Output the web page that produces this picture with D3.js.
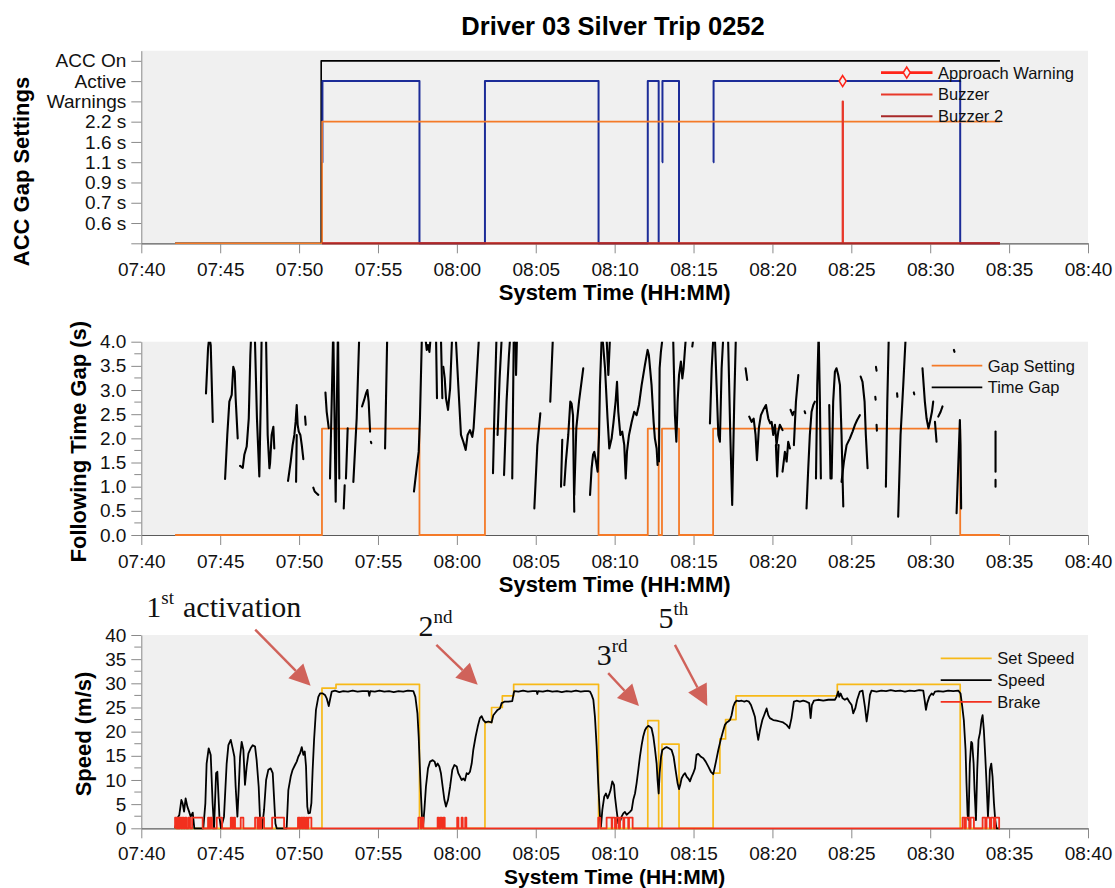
<!DOCTYPE html>
<html>
<head>
<meta charset="utf-8">
<script src="https://cdn.jsdelivr.net/npm/d3@7"></script>
<style>
  html, body { margin: 0; padding: 0; background: #fff; }
  svg { display: block; }
</style>
</head>
<body>
<div id="chart"></div>
<script>
// Trip 0252 — three stacked panels sharing one time axis (07:40 → 08:40).
// Times are minutes after 07:40, values in each panel's own unit.

// ---- panel 1 : ACC gap settings (level index 0..9) ----
const gapLevels = ["", "0.6 s", "0.7 s", "0.9 s", "1.1 s", "1.6 s", "2.2 s", "Warnings", "Active", "ACC On"]
const accOn    = [[2.14, 0], [11.40, 9], [54.42, 9]]
const accActive = [[11.45, 4], [11.48, 8], [17.63, 0], [21.78, 8], [28.98, 0], [32.10, 8], [32.79, 0],
                   [33.00, null], [33.00, 4], [33.03, 8], [34.08, 0],
                   [36.24, null], [36.24, 4], [36.27, 8], [51.90, 0], [54.42, 0]]
const gapLevel = [[2.14, 0], [11.46, 6], [54.42, 6]]
const buzzer   = [[11.46, 0], [44.45, 7], [44.47, 0], [54.42, 0]]
const buzzer2  = [[11.46, 0], [54.42, 0]]
const approachWarning = [[44.45, 8]]

// ---- panel 2 : following time gap (s) ----
const gapSetting = [[2.14, 0], [11.45, 2.2], [17.63, 0], [21.78, 2.2], [28.98, 0], [32.10, 2.2], [32.79, 0],
                    [33.00, 2.2], [34.08, 0], [36.24, 2.2], [51.90, 0], [54.42, 0]]
// radar time gap comes in broken pieces (no target = no sample)
const timeGapSegs = [
  [[4.10, 2.93], [4.23, 3.86], [4.31, 4.1], [4.40, 3.93], [4.44, 3.45], [4.53, 2.34]],
  [[5.31, 1.16], [5.45, 2.07], [5.58, 2.76], [5.73, 2.90], [5.83, 3.48], [5.92, 3.38], [5.98, 2.83], [6.11, 2.0]],
  [[6.26, 1.43], [6.43, 1.39], [6.53, 1.66], [6.68, 1.83], [6.81, 2.41], [6.91, 3.72], [6.97, 4.2]],
  [[7.19, 4.2], [7.33, 2.41], [7.48, 1.21], [7.57, 2.76], [7.63, 4.2]],
  [[7.90, 4.2], [8.01, 2.07], [8.12, 1.38], [8.16, 1.48], [8.26, 2.07], [8.37, 2.24], [8.43, 1.79]],
  [[9.30, 1.12], [9.47, 1.52], [9.59, 1.86], [9.70, 2.07], [9.78, 2.34], [9.85, 2.69], [9.91, 2.28], [9.98, 2.14], [10.08, 2.07], [10.17, 1.86], [10.27, 1.57]],
  [[9.81, 1.10], [9.85, 2.07]],
  [[10.38, 2.45], [10.42, 2.28]],
  [[10.90, 0.98], [10.99, 0.90], [11.12, 0.86], [11.22, 0.83]],
  [[11.67, 2.95], [11.75, 2.55], [11.88, 2.21]],
  [[11.96, 1.17], [12.09, 3.10], [12.16, 4.2]],
  [[12.17, 4.2], [12.26, 2.07], [12.32, 0.69], [12.38, 2.41], [12.46, 4.2]],
  [[12.47, 4.2], [12.51, 2.76], [12.55, 1.17]],
  [[12.83, 0.55], [12.89, 1.03]],
  [[12.97, 1.17], [13.08, 2.21]],
  [[13.44, 1.10], [13.65, 2.41], [13.82, 4.2]],
  [[13.99, 2.66], [14.12, 2.79], [14.24, 2.93], [14.33, 3.0], [14.41, 2.76], [14.50, 2.14]],
  [[14.55, 1.93], [14.58, 1.90]],
  [[15.45, 1.79], [15.59, 4.2]],
  [[17.28, 0.90], [17.45, 1.38], [17.58, 1.72], [17.66, 2.41], [17.79, 4.2]],
  [[18.00, 4.1], [18.09, 3.83], [18.17, 3.93], [18.26, 3.79], [18.34, 4.1]],
  [[18.68, 4.1], [18.74, 2.83]],
  [[18.99, 4.1], [19.08, 2.83]],
  [[19.14, 3.48], [19.23, 3.24], [19.31, 2.83], [19.44, 2.59], [19.57, 3.03], [19.71, 4.2]],
  [[19.93, 4.1], [20.09, 3.10], [20.26, 2.07], [20.41, 1.93], [20.56, 1.76], [20.68, 2.07], [20.83, 2.17], [20.98, 2.03], [21.06, 2.21], [21.19, 2.90], [21.42, 4.2]],
  [[22.29, 1.28], [22.37, 2.41], [22.52, 4.2]],
  [[22.58, 2.07], [22.71, 3.24], [22.86, 4.2]],
  [[22.99, 1.24], [23.15, 2.76], [23.30, 3.72], [23.40, 4.2]],
  [[23.51, 1.17], [23.56, 2.76], [23.61, 4.2]],
  [[23.67, 4.2], [23.75, 3.31], [23.82, 4.2]],
  [[24.91, 0.55], [25.10, 1.86], [25.29, 2.52]],
  [[25.92, 2.76], [26.10, 4.2]],
  [[26.60, 1.0], [26.68, 1.97]],
  [[26.81, 1.03], [26.91, 1.52], [27.06, 2.07], [27.19, 2.76], [27.27, 2.72], [27.36, 2.48], [27.44, 0.48]],
  [[27.44, 0.83], [27.57, 2.21], [27.74, 2.76], [28.01, 3.45]],
  [[28.44, 0.83], [28.54, 1.38], [28.63, 1.66], [28.71, 1.72], [28.82, 1.52], [28.92, 1.31], [29.01, 2.07], [29.07, 3.10], [29.19, 4.2]],
  [[29.20, 4.2], [29.39, 3.45], [29.55, 2.41], [29.66, 1.79], [29.81, 2.0], [29.93, 2.34], [30.06, 2.76], [30.15, 3.17], [30.23, 2.55], [30.36, 2.07], [30.48, 2.14], [30.61, 1.86], [30.70, 1.17], [30.78, 1.72], [30.91, 2.07], [31.08, 2.34], [31.24, 2.55], [31.39, 2.48], [31.54, 2.69], [31.71, 3.10], [31.92, 3.52], [32.09, 3.83], [32.17, 3.72], [32.34, 3.10], [32.47, 2.34], [32.55, 2.0], [32.66, 1.79], [32.72, 1.45]],
  [[29.47, 4.2], [29.60, 3.31], [29.72, 4.2]],
  [[32.81, 1.52], [32.85, 3.45], [32.93, 3.79], [33.08, 4.2]],
  [[33.70, 4.2], [33.82, 2.48], [33.91, 1.93], [33.99, 2.76], [34.08, 3.31], [34.20, 3.59], [34.29, 3.24], [34.37, 3.45], [34.46, 3.86], [34.54, 4.2]],
  [[34.92, 3.90], [34.98, 4.05]],
  [[36.04, 2.31], [36.15, 3.45], [36.27, 4.2]],
  [[36.34, 4.2], [36.46, 3.10], [36.57, 2.07], [36.67, 1.93], [36.78, 3.45], [36.90, 4.2]],
  [[37.18, 4.2], [37.33, 2.07], [37.45, 0.62], [37.58, 2.76], [37.69, 4.2]],
  [[38.30, 3.45], [38.40, 3.21]],
  [[38.53, 2.45], [38.68, 2.34], [38.81, 2.41], [38.93, 2.07], [39.02, 1.55], [39.14, 2.21], [39.27, 2.48], [39.42, 2.59], [39.59, 2.69], [39.74, 2.41], [39.86, 2.31], [39.95, 2.34], [40.05, 2.07], [40.16, 2.28], [40.26, 1.86], [40.37, 2.14], [40.47, 2.28], [40.64, 2.17]],
  [[40.22, 1.86], [40.30, 1.21], [40.39, 1.86]],
  [[40.64, 1.31], [40.79, 1.72], [40.90, 1.52], [41.00, 1.93], [41.11, 1.79]],
  [[41.15, 2.59], [41.28, 2.48], [41.36, 2.55]],
  [[41.36, 1.86], [41.49, 2.76], [41.64, 3.31]],
  [[42.04, 2.56], [42.08, 2.52]],
  [[42.16, 0.55], [42.27, 1.38], [42.37, 2.07], [42.48, 2.55], [42.59, 2.69], [42.69, 2.76]],
  [[42.76, 1.17], [42.84, 3.10], [42.93, 4.2], [43.01, 2.76], [43.07, 1.17]],
  [[43.60, 2.69], [43.68, 1.17]],
  [[43.75, 1.17], [43.85, 2.76], [43.96, 3.38], [44.06, 3.45], [44.17, 3.31], [44.28, 3.10], [44.38, 2.07], [44.49, 0.59]],
  [[44.38, 1.10], [44.53, 1.52], [44.70, 1.86], [44.91, 2.0], [45.08, 2.14], [45.23, 2.28], [45.37, 2.38], [45.54, 2.48]],
  [[45.59, 3.28], [45.71, 3.17], [45.84, 2.76], [45.92, 2.07], [46.03, 1.38]],
  [[46.56, 3.48], [46.60, 3.40]],
  [[46.52, 2.86], [46.54, 2.80]],
  [[46.60, 2.28], [46.62, 2.16]],
  [[47.19, 1.0], [47.28, 2.76], [47.38, 4.2]],
  [[47.90, 2.93], [47.92, 2.86]],
  [[47.97, 0.38], [48.12, 2.07], [48.29, 3.10], [48.46, 4.2]],
  [[48.96, 2.95], [48.99, 2.91]],
  [[49.51, 3.45], [49.66, 2.76], [49.77, 2.41], [49.89, 2.21], [49.98, 2.34], [50.11, 2.55], [50.19, 2.76]],
  [[50.30, 2.34], [50.40, 1.93]],
  [[50.51, 2.45], [50.66, 2.55], [50.78, 2.66]],
  [[51.50, 3.83], [51.54, 3.79]],
  [[51.67, 0.45], [51.77, 1.38], [51.88, 2.38], [51.92, 1.86], [51.96, 0.55]],
  [[54.14, 2.14], [54.14, 1.31]],
  [[54.14, 1.14], [54.14, 1.0]],
]

// ---- panel 3 : speed (m/s) ----
const setSpeed = [[2.14, 0], [11.45, 29.0], [12.34, 29.8], [17.63, 0], [21.78, 21.9], [22.20, 25.0], [22.88, 27.4],
                  [23.60, 29.8], [28.98, 0], [32.10, 22.3], [32.79, 0], [33.00, 17.4], [34.08, 0], [36.24, 11.4],
                  [36.67, 18.5], [37.03, 22.5], [37.69, 27.4], [44.11, 29.8], [51.90, 0], [54.42, 0]]
const speed = [
  [2.14, 0], [2.29, 2.07], [2.41, 2.76], [2.54, 5.86], [2.62, 5.17], [2.71, 3.45], [2.81, 6.2], [2.92, 4.48], [3.03, 3.45],
  [3.13, 2.41], [3.26, 3.24], [3.36, 0], [3.93, 0], [4.06, 5.17], [4.14, 13.4], [4.27, 16.55], [4.40, 15.17], [4.52, 5.17],
  [4.61, 0], [4.74, 11.4], [4.82, 11.7], [4.95, 2.41], [5.05, 0], [5.24, 2.41], [5.41, 13.4], [5.52, 17.2], [5.67, 18.3],
  [5.79, 16.55], [5.90, 14.8], [5.98, 8.6], [6.09, 2.41], [6.17, 7.9], [6.26, 14.8], [6.36, 17.9], [6.47, 16.2], [6.57, 9.0],
  [6.68, 12.8], [6.79, 15.5], [6.93, 16.55], [7.06, 17.2], [7.21, 16.9], [7.31, 14.1], [7.44, 8.6], [7.52, 2.41], [7.65, 0],
  [7.78, 3.8], [7.91, 10.0], [8.05, 12.1], [8.20, 12.4], [8.33, 11.4], [8.41, 6.55], [8.50, 1.0], [8.58, 0], [9.21, 0],
  [9.32, 7.9], [9.47, 10.7], [9.59, 12.1], [9.74, 13.1], [9.85, 13.8], [9.95, 14.8], [10.06, 15.5], [10.17, 16.8],
  [10.27, 15.2], [10.36, 15.9], [10.44, 12.8], [10.52, 4.5], [10.59, 3.1], [10.69, 3.2], [10.78, 5.2], [10.86, 12.1],
  [10.95, 18.3], [11.07, 24.5], [11.22, 27.2], [11.33, 27.9], [11.50, 27.9], [11.64, 27.6], [11.75, 26.9], [11.88, 25.3],
  [11.96, 26.6], [12.07, 28.3], [12.28, 28.5], [12.55, 28.2], [12.80, 28.4], [13.10, 28.3], [13.40, 28.5], [13.70, 28.3],
  [14.00, 28.4], [14.39, 28.4], [14.45, 27.4], [14.51, 28.4], [14.80, 28.3], [15.10, 28.5], [15.40, 28.3], [15.70, 28.4],
  [16.00, 28.2], [16.30, 28.4], [16.60, 28.3], [16.90, 28.5], [17.24, 28.4], [17.37, 27.2], [17.50, 23.8], [17.58, 19.0],
  [17.66, 12.1], [17.73, 6.55], [17.79, 2.41], [17.85, 0.3], [17.94, 3.8], [18.04, 8.6], [18.17, 12.4], [18.30, 13.8],
  [18.47, 14.1], [18.59, 13.8], [18.68, 12.8], [18.78, 13.4], [18.89, 12.8], [18.99, 11.4], [19.10, 8.6], [19.21, 5.9],
  [19.31, 4.5], [19.44, 5.9], [19.57, 8.6], [19.71, 12.1], [19.84, 13.1], [19.99, 12.8], [20.09, 11.4], [20.20, 10.7],
  [20.30, 10.0], [20.41, 10.3], [20.51, 9.9], [20.62, 11.4], [20.72, 11.2], [20.83, 11.7], [20.94, 13.4], [21.04, 16.2],
  [21.19, 19.0], [21.32, 21.0], [21.46, 22.8], [21.57, 23.2], [21.68, 22.4], [21.82, 21.9], [21.99, 22.1], [22.20, 21.9],
  [22.31, 23.4], [22.41, 23.8], [22.58, 24.5], [22.73, 24.8], [22.84, 25.9], [23.01, 26.2], [23.26, 26.2], [23.51, 26.3],
  [23.60, 27.9], [23.64, 28.4], [23.90, 28.3], [24.20, 28.5], [24.50, 28.3], [24.80, 28.4], [25.05, 28.4], [25.10, 27.8],
  [25.15, 28.4], [25.45, 28.3], [25.75, 28.5], [26.05, 28.3], [26.35, 28.4], [26.65, 28.2], [26.95, 28.4], [27.25, 28.3],
  [27.55, 28.5], [27.85, 28.3], [28.10, 28.4], [28.33, 28.4], [28.44, 28.3], [28.54, 27.6], [28.65, 26.6], [28.75, 23.1],
  [28.86, 16.9], [28.96, 9.3], [29.07, 2.4], [29.13, 0.3], [29.22, 3.8], [29.34, 6.55], [29.45, 7.2], [29.55, 6.2],
  [29.64, 6.9], [29.74, 7.9], [29.85, 9.7], [29.96, 9.0], [30.02, 6.55], [30.12, 3.8], [30.23, 1.0], [30.34, 1.4],
  [30.44, 2.4], [30.55, 3.1], [30.65, 3.4], [30.76, 2.8], [30.86, 3.1], [30.97, 3.4], [31.08, 3.8], [31.18, 5.9],
  [31.29, 7.2], [31.39, 9.3], [31.50, 12.1], [31.60, 14.8], [31.71, 17.2], [31.81, 19.0], [31.92, 20.3], [32.03, 20.9],
  [32.13, 21.2], [32.24, 21.0], [32.34, 20.7], [32.45, 19.0], [32.55, 16.55], [32.66, 13.4], [32.72, 10.0], [32.79, 7.2],
  [32.85, 11.4], [32.94, 14.8], [33.02, 16.2], [33.15, 16.55], [33.29, 16.8], [33.44, 16.55], [33.61, 16.2], [33.74, 14.8],
  [33.86, 12.1], [33.99, 9.3], [34.08, 8.1], [34.16, 9.0], [34.24, 10.3], [34.35, 11.0], [34.46, 11.4], [34.56, 10.7],
  [34.67, 10.3], [34.77, 9.7], [34.88, 10.7], [34.98, 11.4], [35.09, 12.4], [35.19, 15.2], [35.30, 15.4], [35.47, 14.8],
  [35.62, 14.5], [35.77, 13.8], [35.93, 12.8], [36.10, 11.7], [36.25, 11.2], [36.31, 12.1], [36.42, 13.8], [36.57, 16.2],
  [36.72, 18.3], [36.86, 20.0], [36.99, 21.4], [37.10, 21.9], [37.20, 22.1], [37.31, 22.4], [37.41, 23.4], [37.52, 25.2],
  [37.62, 26.0], [37.73, 26.4], [37.88, 26.3], [38.05, 26.4], [38.22, 26.2], [38.36, 26.4], [38.51, 26.2], [38.64, 25.5],
  [38.79, 24.1], [38.89, 23.1], [39.00, 20.3], [39.10, 18.3], [39.21, 20.3], [39.36, 22.4], [39.52, 23.8], [39.63, 24.8],
  [39.74, 23.4], [39.84, 22.8], [40.05, 22.4], [40.26, 22.3], [40.47, 22.1], [40.68, 21.9], [40.90, 21.4], [41.07, 20.7],
  [41.21, 22.8], [41.36, 26.2], [41.53, 26.4], [41.74, 26.2], [41.95, 26.4], [42.16, 26.2], [42.33, 25.9], [42.42, 22.8],
  [42.50, 25.5], [42.63, 26.4], [42.90, 26.6], [43.22, 26.4], [43.54, 26.6], [43.96, 26.6], [44.06, 27.2], [44.17, 28.3],
  [44.23, 27.2], [44.32, 27.9], [44.45, 26.9], [44.59, 26.6], [44.74, 26.9], [44.87, 26.2], [45.02, 25.5], [45.12, 23.8],
  [45.25, 24.8], [45.37, 26.6], [45.54, 28.3], [45.71, 28.5], [45.86, 25.2], [45.97, 22.1], [46.07, 24.5], [46.18, 27.6],
  [46.28, 28.5], [46.60, 28.3], [46.90, 28.5], [47.20, 28.4], [47.50, 28.6], [47.80, 28.4], [48.10, 28.5], [48.40, 28.3],
  [48.70, 28.5], [49.00, 28.4], [49.30, 28.6], [49.56, 28.5], [49.66, 26.2], [49.73, 24.5], [49.81, 25.9], [49.94, 27.2],
  [50.09, 27.9], [50.19, 27.6], [50.30, 28.3], [50.51, 28.4], [50.82, 28.3], [51.14, 28.5], [51.46, 28.4], [51.78, 28.5],
  [51.92, 27.9], [52.03, 25.2], [52.13, 22.4], [52.24, 16.2], [52.30, 9.3], [52.37, 2.8], [52.43, 1.7], [52.51, 13.4],
  [52.60, 17.9], [52.66, 17.6], [52.75, 13.4], [52.81, 7.9], [52.90, 1.7], [52.98, 12.1], [53.06, 18.3], [53.15, 19.7],
  [53.25, 22.4], [53.32, 23.4], [53.40, 20.3], [53.49, 14.8], [53.57, 9.3], [53.66, 2.4], [53.72, 6.55], [53.78, 12.1],
  [53.87, 13.4], [53.95, 10.7], [54.04, 5.2], [54.12, 1.7], [54.20, 0], [54.42, 0],
]
// brake pedal: intervals (start, end) where the switch reads "on"
const brakeOn = [[2.14, 2.24], [2.31, 2.39], [2.45, 2.54], [2.60, 2.69], [2.77, 2.86], [2.98, 3.09], [3.22, 3.89],
  [4.23, 4.31], [4.38, 4.48], [4.78, 5.12], [5.67, 5.77], [5.86, 5.94], [6.30, 6.47], [7.21, 7.36], [7.44, 7.52],
  [7.61, 7.78], [8.29, 9.05], [9.93, 10.04], [10.12, 10.21], [10.27, 10.36], [10.44, 10.52], [10.59, 10.78],
  [17.56, 17.71], [17.77, 17.88], [18.78, 18.87], [18.95, 19.06], [19.14, 19.23], [20.02, 20.10], [20.30, 20.37],
  [20.53, 20.60], [28.96, 29.09], [29.49, 29.81], [29.85, 30.02], [30.12, 30.27], [30.34, 30.55], [30.61, 30.86],
  [30.91, 31.14], [52.05, 52.18], [52.26, 52.47], [52.56, 52.77], [53.32, 53.49], [53.57, 53.78], [53.87, 54.04],
  [54.12, 54.37]]
const brakeLevel = 2.2
const tripEnd = 54.42

// activation call-outs (minutes, m/s)
const callouts = [
  { num: "1", sup: "st", rest: "activation", at: [0.32, 43.8], from: [7.22, 41.1], tip: [10.73, 29.5] },
  { num: "2", sup: "nd", at: [17.57, 39.7], from: [18.70, 37.95], tip: [21.32, 29.7] },
  { num: "3", sup: "rd", at: [28.86, 33.8], from: [29.59, 32.1], tip: [31.54, 25.3] },
  { num: "5", sup: "th", at: [32.78, 41.5], from: [33.82, 37.95], tip: [35.87, 25.3] },
]

// ------------------------------------------------------------------
const W = 1115, H = 888
const FONT = "'Liberation Sans', Arial, Helvetica, sans-serif"
const SERIF = "'Liberation Serif', 'Times New Roman', serif"
const C = {
  bg: "#f0f0f0", axis: "#8a8a8a", base: "#5a5a5a",
  blue: "#1c2c98", orange: "#f47a28", red: "#ff2418", buzz: "#e8382a", buzz2: "#a82828",
  set: "#f7b918", brake: "#f2301e", arrow: "#d0625a",
}

const svg = d3.select("#chart").append("svg").attr("width", W).attr("height", H)

const t0 = new Date(2000, 0, 1, 7, 40)
const toDate = (m) => new Date(t0.getTime() + m * 60000)
const x = d3.scaleTime().domain([toDate(0), toDate(60)]).range([141.3, 1088])
const [X0, X1] = x.range()

const yTop = d3.scaleLinear().domain([0, 9.5]).range([243.3, 50.7])
const yMid = d3.scaleLinear().domain([0, 4]).range([535, 341.7])
const yBot = d3.scaleLinear().domain([0, 40]).range([828.3, 635])

svg.append("text")
  .attr("x", 613).attr("y", 35).attr("text-anchor", "middle")
  .attr("font-family", FONT).attr("font-size", 25.5).attr("font-weight", 700)
  .text("Driver 03 Silver Trip 0252")

function panel(y, { id, ticks, fmt, minor, title, titleX, xTitleDy = 57, xTitleSize = 22, pad = 9.5 }) {
  const [yb, yt] = y.range()
  const g = svg.append("g")
  g.append("rect").attr("x", X0).attr("y", yt).attr("width", X1 - X0).attr("height", yb - yt).attr("fill", C.bg)
  svg.append("clipPath").attr("id", id).append("rect")
    .attr("x", X0).attr("y", yt).attr("width", X1 - X0).attr("height", yb - yt + 2)

  if (minor) {
    g.selectAll("line.minor").data(minor).join("line")
      .attr("x1", X0 - 7).attr("x2", X0)
      .attr("y1", (d) => y(d)).attr("y2", (d) => y(d))
      .attr("stroke", C.axis)
  }
  const ya = g.append("g").attr("transform", `translate(${X0},0)`)
    .call(d3.axisLeft(y).tickValues(ticks).tickFormat(fmt).tickSize(10).tickPadding(5).tickSizeOuter(0))
  const xa = g.append("g").attr("transform", `translate(0,${yb})`)
    .call(d3.axisBottom(x).ticks(d3.timeMinute.every(5)).tickFormat(d3.timeFormat("%H:%M"))
      .tickSize(10).tickPadding(pad).tickSizeOuter(0))
  for (const a of [ya, xa]) {
    a.attr("font-family", FONT).attr("font-size", 19)
    a.selectAll(".tick line").attr("stroke", C.axis)
    a.selectAll(".tick text").attr("fill", "#111")
  }
  ya.select(".domain").attr("stroke", C.axis)
  xa.select(".domain").attr("stroke", C.base).attr("stroke-width", 1.2)

  svg.append("text")
    .attr("x", (X0 + X1) / 2).attr("y", yb + xTitleDy).attr("text-anchor", "middle")
    .attr("font-family", FONT).attr("font-size", xTitleSize).attr("font-weight", 700)
    .text("System Time (HH:MM)")
  svg.append("text")
    .attr("transform", `translate(${titleX[0]},${titleX[1]}) rotate(-90)`)
    .attr("text-anchor", "middle")
    .attr("font-family", FONT).attr("font-size", 22).attr("font-weight", 700)
    .text(title)
  return svg.append("g").attr("clip-path", `url(#${id})`)
}

function path(layer, y, data, color, width, curve) {
  const line = d3.line()
    .defined((d) => d[1] != null)
    .x((d) => x(toDate(d[0])))
    .y((d) => y(d[1]))
    .curve(curve || d3.curveLinear)
  return layer.append("path").attr("d", line(data))
    .attr("fill", "none").attr("stroke", color).attr("stroke-width", width)
    .attr("stroke-linejoin", "round")
}

function legend(items, y0, lx1, lx2, tx) {
  const g = svg.append("g").attr("font-family", FONT).attr("font-size", 16.5)
  items.forEach((it, i) => {
    const yy = y0 + i * 21.8
    g.append("line").attr("x1", lx1).attr("x2", lx2).attr("y1", yy).attr("y2", yy)
      .attr("stroke", it.color).attr("stroke-width", it.width)
    if (it.marker) {
      g.append("path").attr("transform", `translate(${(lx1 + lx2) / 2},${yy})`)
        .attr("d", "M0,-5.5L3.5,0L0,5.5L-3.5,0Z")
        .attr("fill", C.bg).attr("stroke", it.color).attr("stroke-width", 1.6)
    }
    g.append("text").attr("x", tx).attr("y", yy).attr("dy", "0.36em").attr("fill", "#111").text(it.name)
  })
}

// ---- panel 1
const p1 = panel(yTop, {
  id: "clip1", ticks: d3.range(0, 10), fmt: (d) => gapLevels[d],
  title: "ACC Gap Settings", titleX: [28.6, 171.5],
})
path(p1, yTop, accOn, "#000", 1.6, d3.curveStepAfter)
path(p1, yTop, accActive, C.blue, 2, d3.curveStepAfter)
path(p1, yTop, gapLevel, C.orange, 1.6, d3.curveStepAfter)
path(p1, yTop, buzzer, C.buzz, 2, d3.curveStepAfter)
path(p1, yTop, buzzer2, C.buzz2, 1.8, d3.curveStepAfter)
p1.selectAll("path.aw").data(approachWarning).join("path").attr("class", "aw")
  .attr("transform", (d) => `translate(${x(toDate(d[0]))},${yTop(d[1])})`)
  .attr("d", "M0,-5.5L3.5,0L0,5.5L-3.5,0Z")
  .attr("fill", C.bg).attr("stroke", C.red).attr("stroke-width", 1.6)
legend([
  { name: "Approach Warning", color: C.red, width: 2.6, marker: true },
  { name: "Buzzer", color: C.buzz, width: 2 },
  { name: "Buzzer 2", color: C.buzz2, width: 2 },
], 72.6, 881, 932.5, 938)

// ---- panel 2
const p2 = panel(yMid, {
  id: "clip2", ticks: d3.range(0, 4.01, 0.5), fmt: d3.format(".1f"), minor: d3.range(0.25, 4, 0.5),
  title: "Following Time Gap (s)", titleX: [85.7, 441.7],
})
path(p2, yMid, gapSetting, C.orange, 1.8, d3.curveStepAfter)
timeGapSegs.forEach((seg) => path(p2, yMid, seg, "#000", 2.1).attr("stroke-linecap", "round"))
legend([
  { name: "Gap Setting", color: C.orange, width: 1.8 },
  { name: "Time Gap", color: "#000", width: 1.8 },
], 365.6, 931.7, 982.3, 987.7)

// ---- panel 3 (title squeezed a little so it stays inside the page)
const p3 = panel(yBot, {
  id: "clip3", ticks: d3.range(0, 41, 5), fmt: d3.format("d"), minor: d3.range(2.5, 40, 5),
  title: "Speed (m/s)", titleX: [91, 734], xTitleDy: 55.2, xTitleSize: 21, pad: 8,
})
const brakeSteps = [[2.14, 0]]
brakeOn.forEach(([s, e]) => { brakeSteps.push([s, brakeLevel], [e, 0]) })
brakeSteps.push([tripEnd, 0])
path(p3, yBot, setSpeed, C.set, 1.7, d3.curveStepAfter)
path(p3, yBot, speed, "#000", 1.8)
path(p3, yBot, brakeSteps, C.brake, 1.8, d3.curveStepAfter)
legend([
  { name: "Set Speed", color: C.set, width: 1.8 },
  { name: "Speed", color: "#000", width: 1.8 },
  { name: "Brake", color: C.brake, width: 1.8 },
], 658.3, 940.7, 991.7, 997.3)

// ---- call-outs
const ann = svg.append("g")
callouts.forEach((c) => {
  const [ax, ay] = [x(toDate(c.from[0])), yBot(c.from[1])]
  const [bx, by] = [x(toDate(c.tip[0])), yBot(c.tip[1])]
  const ang = Math.atan2(by - ay, bx - ax)
  const L = 21, Wd = 10.5
  const baseX = bx - L * Math.cos(ang), baseY = by - L * Math.sin(ang)
  ann.append("line").attr("x1", ax).attr("y1", ay).attr("x2", baseX).attr("y2", baseY)
    .attr("stroke", C.arrow).attr("stroke-width", 2.4)
  ann.append("path")
    .attr("d", `M${bx},${by}L${baseX + Wd * Math.sin(ang)},${baseY - Wd * Math.cos(ang)}` +
      `L${baseX - Wd * Math.sin(ang)},${baseY + Wd * Math.cos(ang)}Z`)
    .attr("fill", C.arrow)
  const t = ann.append("text")
    .attr("x", x(toDate(c.at[0]))).attr("y", yBot(c.at[1]))
    .attr("font-family", SERIF).attr("font-size", 30).attr("fill", "#111")
  t.append("tspan").text(c.num)
  t.append("tspan").attr("dy", -13).attr("font-size", 19).text(c.sup)
  if (c.rest) t.append("tspan").attr("dy", 13).attr("dx", 9).text(c.rest)
})
</script>
</body>
</html>
